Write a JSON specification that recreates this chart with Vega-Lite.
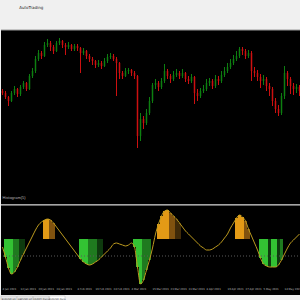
{
  "$schema": "https://vega.github.io/schema/vega-lite/v6.json",
  "background": "#f0f0f0",
  "padding": {"top": 5, "left": 0, "right": 0, "bottom": 0},
  "spacing": 0,
  "title": {"text": "AutoTrading", "anchor": "start", "fontSize": 4, "fontWeight": "normal", "color": "#222", "font": "DejaVu Sans", "dx": 19, "offset": 20},
  "config": {"view": {"stroke": null, "fill": "#000000"}, "concat": {"spacing": 0}},
  "datasets": {
    "bars": [
      {"d":"2021-01-04","o":110,"h":112,"l":106,"c":108,"v":9},
      {"d":"2021-01-05","o":108,"h":110,"l":102,"c":104,"v":-1,"hc":"G1"},
      {"d":"2021-01-06","o":104,"h":105,"l":95,"c":100,"v":-12,"hc":"G1"},
      {"d":"2021-01-07","o":100,"h":110,"l":99,"c":108,"v":-18,"hc":"G1"},
      {"d":"2021-01-08","o":108,"h":115,"l":106,"c":112,"v":-16,"hc":"G2"},
      {"d":"2021-01-11","o":112,"h":113,"l":104,"c":107,"v":-11,"hc":"G2"},
      {"d":"2021-01-12","o":107,"h":116,"l":105,"c":114,"v":-4,"hc":"G3"},
      {"d":"2021-01-13","o":114,"h":120,"l":112,"c":118,"v":2,"hc":"G3"},
      {"d":"2021-01-14","o":118,"h":119,"l":110,"c":112,"v":8},
      {"d":"2021-01-15","o":112,"h":127,"l":111,"c":125,"v":14},
      {"d":"2021-01-18","o":125,"h":133,"l":123,"c":130,"v":20},
      {"d":"2021-01-19","o":130,"h":145,"l":128,"c":142,"v":26},
      {"d":"2021-01-20","o":142,"h":151,"l":140,"c":148,"v":31},
      {"d":"2021-01-21","o":148,"h":150,"l":142,"c":145,"v":34},
      {"d":"2021-01-22","o":145,"h":159,"l":144,"c":156,"v":36,"hc":"O1"},
      {"d":"2021-01-25","o":156,"h":162,"l":154,"c":158,"v":37,"hc":"O1"},
      {"d":"2021-01-26","o":158,"h":160,"l":150,"c":154,"v":36,"hc":"O2"},
      {"d":"2021-01-27","o":154,"h":156,"l":147,"c":150,"v":33,"hc":"O2"},
      {"d":"2021-01-28","o":150,"h":160,"l":149,"c":158,"v":29},
      {"d":"2021-01-29","o":158,"h":163,"l":156,"c":160,"v":25},
      {"d":"2021-02-01","o":160,"h":161,"l":153,"c":156,"v":21},
      {"d":"2021-02-02","o":156,"h":158,"l":146,"c":154,"v":17},
      {"d":"2021-02-03","o":154,"h":159,"l":152,"c":156,"v":13},
      {"d":"2021-02-04","o":156,"h":157,"l":150,"c":152,"v":9},
      {"d":"2021-02-05","o":152,"h":157,"l":150,"c":155,"v":5},
      {"d":"2021-02-08","o":155,"h":157,"l":150,"c":153,"v":1},
      {"d":"2021-02-09","o":153,"h":154,"l":128,"c":148,"v":-3,"hc":"G1"},
      {"d":"2021-02-10","o":148,"h":153,"l":146,"c":150,"v":-6,"hc":"G1"},
      {"d":"2021-02-11","o":150,"h":151,"l":142,"c":145,"v":-8,"hc":"G1"},
      {"d":"2021-02-12","o":145,"h":147,"l":139,"c":142,"v":-9,"hc":"G2"},
      {"d":"2021-02-15","o":142,"h":144,"l":136,"c":140,"v":-8,"hc":"G2"},
      {"d":"2021-02-16","o":140,"h":141,"l":133,"c":136,"v":-6,"hc":"G2"},
      {"d":"2021-02-17","o":136,"h":141,"l":134,"c":138,"v":-4,"hc":"G3"},
      {"d":"2021-02-18","o":138,"h":140,"l":132,"c":135,"v":-1,"hc":"G3"},
      {"d":"2021-02-19","o":135,"h":143,"l":134,"c":140,"v":2},
      {"d":"2021-02-22","o":140,"h":147,"l":138,"c":144,"v":5},
      {"d":"2021-02-23","o":144,"h":148,"l":142,"c":145,"v":8},
      {"d":"2021-02-24","o":145,"h":147,"l":140,"c":142,"v":12},
      {"d":"2021-02-25","o":142,"h":144,"l":105,"c":138,"v":13},
      {"d":"2021-02-26","o":138,"h":139,"l":122,"c":128,"v":12},
      {"d":"2021-03-01","o":128,"h":130,"l":122,"c":125,"v":11},
      {"d":"2021-03-02","o":125,"h":133,"l":124,"c":130,"v":10},
      {"d":"2021-03-03","o":130,"h":133,"l":127,"c":131,"v":11},
      {"d":"2021-03-04","o":131,"h":132,"l":125,"c":128,"v":13},
      {"d":"2021-03-05","o":128,"h":130,"l":122,"c":125,"v":9,"hc":"G1"},
      {"d":"2021-03-08","o":125,"h":126,"l":53,"c":65,"v":-11,"hc":"G1"},
      {"d":"2021-03-09","o":65,"h":88,"l":60,"c":82,"v":-28,"hc":"G1"},
      {"d":"2021-03-10","o":82,"h":85,"l":72,"c":78,"v":-24,"hc":"G2"},
      {"d":"2021-03-11","o":78,"h":92,"l":76,"c":88,"v":-14,"hc":"G2"},
      {"d":"2021-03-12","o":88,"h":104,"l":86,"c":100,"v":-4,"hc":"G2"},
      {"d":"2021-03-15","o":100,"h":118,"l":98,"c":116,"v":8},
      {"d":"2021-03-16","o":116,"h":122,"l":112,"c":118,"v":22},
      {"d":"2021-03-17","o":118,"h":120,"l":110,"c":114,"v":32,"hc":"O1"},
      {"d":"2021-03-18","o":114,"h":123,"l":112,"c":120,"v":40,"hc":"O1"},
      {"d":"2021-03-19","o":120,"h":137,"l":118,"c":130,"v":45,"hc":"O1"},
      {"d":"2021-03-22","o":130,"h":132,"l":122,"c":125,"v":46,"hc":"O1"},
      {"d":"2021-03-23","o":125,"h":127,"l":118,"c":122,"v":43,"hc":"O2"},
      {"d":"2021-03-24","o":122,"h":130,"l":120,"c":126,"v":40,"hc":"O2"},
      {"d":"2021-03-25","o":126,"h":132,"l":124,"c":128,"v":37,"hc":"O3"},
      {"d":"2021-03-26","o":128,"h":130,"l":122,"c":125,"v":33,"hc":"O3"},
      {"d":"2021-03-29","o":125,"h":132,"l":123,"c":128,"v":29},
      {"d":"2021-03-30","o":128,"h":129,"l":119,"c":122,"v":25},
      {"d":"2021-03-31","o":122,"h":125,"l":117,"c":120,"v":22},
      {"d":"2021-04-01","o":120,"h":127,"l":118,"c":124,"v":19},
      {"d":"2021-04-02","o":124,"h":125,"l":97,"c":108,"v":16},
      {"d":"2021-04-05","o":108,"h":112,"l":100,"c":105,"v":13},
      {"d":"2021-04-06","o":105,"h":113,"l":103,"c":110,"v":10},
      {"d":"2021-04-07","o":110,"h":116,"l":108,"c":112,"v":8},
      {"d":"2021-04-08","o":112,"h":122,"l":110,"c":118,"v":6},
      {"d":"2021-04-09","o":118,"h":123,"l":115,"c":120,"v":6},
      {"d":"2021-04-12","o":120,"h":122,"l":112,"c":115,"v":7},
      {"d":"2021-04-13","o":115,"h":126,"l":113,"c":122,"v":9},
      {"d":"2021-04-14","o":122,"h":125,"l":116,"c":120,"v":11},
      {"d":"2021-04-15","o":120,"h":130,"l":118,"c":126,"v":14},
      {"d":"2021-04-16","o":126,"h":134,"l":124,"c":130,"v":18},
      {"d":"2021-04-19","o":130,"h":138,"l":128,"c":134,"v":22},
      {"d":"2021-04-20","o":134,"h":142,"l":132,"c":138,"v":28},
      {"d":"2021-04-21","o":138,"h":146,"l":136,"c":142,"v":33},
      {"d":"2021-04-22","o":142,"h":150,"l":140,"c":145,"v":38,"hc":"O1"},
      {"d":"2021-04-23","o":145,"h":154,"l":143,"c":152,"v":41,"hc":"O1"},
      {"d":"2021-04-26","o":152,"h":154,"l":146,"c":150,"v":39,"hc":"O1"},
      {"d":"2021-04-27","o":150,"h":152,"l":142,"c":145,"v":35,"hc":"O2"},
      {"d":"2021-04-28","o":145,"h":151,"l":143,"c":148,"v":27,"hc":"O2"},
      {"d":"2021-04-29","o":148,"h":150,"l":120,"c":130,"v":20},
      {"d":"2021-04-30","o":130,"h":134,"l":124,"c":128,"v":13},
      {"d":"2021-05-03","o":128,"h":131,"l":120,"c":124,"v":6},
      {"d":"2021-05-04","o":124,"h":127,"l":113,"c":120,"v":-2,"hc":"G1"},
      {"d":"2021-05-05","o":120,"h":126,"l":116,"c":122,"v":-8,"hc":"G1"},
      {"d":"2021-05-06","o":122,"h":124,"l":110,"c":115,"v":-10,"hc":"G1"},
      {"d":"2021-05-07","o":115,"h":118,"l":105,"c":112,"v":-11,"hc":"G3"},
      {"d":"2021-05-10","o":112,"h":114,"l":95,"c":100,"v":-11,"hc":"G1"},
      {"d":"2021-05-11","o":100,"h":103,"l":88,"c":92,"v":-11,"hc":"G1"},
      {"d":"2021-05-12","o":92,"h":96,"l":85,"c":88,"v":-9,"hc":"G3"},
      {"d":"2021-05-13","o":88,"h":108,"l":86,"c":105,"v":-4,"hc":"G2"},
      {"d":"2021-05-14","o":105,"h":135,"l":102,"c":128,"v":2},
      {"d":"2021-05-17","o":128,"h":130,"l":115,"c":122,"v":8},
      {"d":"2021-05-18","o":122,"h":124,"l":107,"c":115,"v":13},
      {"d":"2021-05-19","o":115,"h":118,"l":106,"c":112,"v":16},
      {"d":"2021-05-20","o":112,"h":117,"l":108,"c":114,"v":19},
      {"d":"2021-05-21","o":114,"h":116,"l":105,"c":110,"v":22}
    ],
    "tabs": [
      {"tab":"EURUSD,H1","active":false},
      {"tab":"GBPUSD,H4","active":false},
      {"tab":"USDJPY,Daily","active":false},
      {"tab":"EURUSD,Daily","active":true}
    ]
  },
  "vconcat": [
    {
      "width": 300,
      "height": 174,
      "data": {"name": "bars"},
      "layer": [
        {
          "mark": {"type": "rule", "strokeWidth": 1},
          "encoding": {
            "x": {"field": "d", "type": "ordinal", "scale": {"paddingInner": 0.5, "paddingOuter": 0.25}, "axis": null},
            "y": {"field": "l", "type": "quantitative", "scale": {"domain": [-3, 171], "nice": false, "zero": false}, "axis": null},
            "y2": {"field": "h"},
            "color": {"condition": {"test": "datum.c >= datum.o", "value": "#0d7f10"}, "value": "#cc1010"}
          }
        },
        {
          "mark": {"type": "bar"},
          "encoding": {
            "x": {"field": "d", "type": "ordinal", "axis": null},
            "y": {"field": "o", "type": "quantitative"},
            "y2": {"field": "c"},
            "color": {"condition": {"test": "datum.c >= datum.o", "value": "#0d7f10"}, "value": "#cc1010"}
          }
        },
        {
          "data": {"values": [{"t": "Histogram(5)"}]},
          "mark": {"type": "text", "align": "left", "baseline": "middle", "fontSize": 4, "color": "#b0b0b0", "dx": 0},
          "encoding": {
            "x": {"datum": "2021-01-04", "type": "ordinal"},
            "y": {"datum": 3},
            "text": {"field": "t"}
          }
        },
        {
          "data": {"values": [{}]},
          "mark": {"type": "rule", "color": "#9a9a9a", "strokeWidth": 1},
          "encoding": {"y": {"datum": 171}}
        }
      ]
    },
    {
      "width": 300,
      "height": 90,
      "data": {"name": "bars"},
      "layer": [
        {
          "transform": [{"filter": "isValid(datum.hc)"}],
          "mark": {"type": "bar"},
          "encoding": {
            "x": {"field": "d", "type": "ordinal", "scale": {"paddingInner": 0, "paddingOuter": 0},
                  "axis": {"orient": "bottom", "offset": -7, "ticks": false, "domain": false, "grid": false, "labelPadding": 0, "labelBaseline": "top", "labelAlign": "left", "labelAngle": 0, "labelFontSize": 2.6, "labelColor": "#bdbdbd", "labelFont": "DejaVu Sans", "labelOverlap": false, "title": null,
                           "values": ["2021-01-04","2021-01-12","2021-01-20","2021-01-28","2021-02-08","2021-02-16","2021-02-24","2021-03-04","2021-03-15","2021-03-23","2021-03-31","2021-04-08","2021-04-19","2021-04-27","2021-05-05","2021-05-14"],
                           "labelExpr": "timeFormat(toDate(datum.value + 'T00:00'), '%-d %b %Y')"}},
            "y": {"field": "v", "type": "quantitative", "scale": {"domain": [-39, 51], "nice": false, "zero": false}, "axis": null},
            "y2": {"datum": 17},
            "color": {"field": "hc", "type": "nominal", "scale": {"domain": ["G1","G2","G3","O1","O2","O3"], "range": ["#33c233","#1f7a1f","#0e3a0e","#e39a16","#80520f","#3f2a08"]}, "legend": null}
          }
        },
        {
          "data": {"values": [{}]},
          "mark": {"type": "rule", "color": "#5a5a5a", "strokeDash": [1, 2], "strokeWidth": 1},
          "encoding": {"y": {"datum": 0}}
        },
        {
          "mark": {"type": "line", "color": "#bc9a1e", "strokeWidth": 1, "interpolate": "monotone"},
          "encoding": {
            "x": {"field": "d", "type": "ordinal",
                  "axis": {"orient": "bottom", "offset": -7, "ticks": false, "domain": false, "grid": false, "labelPadding": 0, "labelBaseline": "top", "labelAlign": "left", "labelAngle": 0, "labelFontSize": 2.6, "labelColor": "#bdbdbd", "labelFont": "DejaVu Sans", "labelOverlap": false, "title": null,
                           "values": ["2021-01-04","2021-01-12","2021-01-20","2021-01-28","2021-02-08","2021-02-16","2021-02-24","2021-03-04","2021-03-15","2021-03-23","2021-03-31","2021-04-08","2021-04-19","2021-04-27","2021-05-05","2021-05-14"],
                           "labelExpr": "timeFormat(toDate(datum.value + 'T00:00'), '%-d %b %Y')"}},
            "y": {"field": "v", "type": "quantitative"}
          }
        },
        {
          "data": {"values": [{}]},
          "mark": {"type": "rule", "color": "#8c8c8c", "strokeWidth": 1.5},
          "encoding": {"y": {"datum": 51}}
        }
      ]
    },
    {
      "width": 64,
      "height": 7,
      "view": {"fill": "#f0f0f0"},
      "data": {"name": "tabs"},
      "layer": [
        {
          "mark": {"type": "bar", "stroke": "#b8b8b8", "strokeWidth": 0.5},
          "encoding": {
            "x": {"field": "tab", "type": "nominal", "sort": null, "scale": {"paddingInner": 0.05, "paddingOuter": 0}, "axis": null},
            "color": {"condition": {"test": "datum.active", "value": "#ffffff"}, "value": "#e6e6e6"}
          }
        },
        {
          "mark": {"type": "text", "fontSize": 2.4, "color": "#333", "font": "DejaVu Sans"},
          "encoding": {
            "x": {"field": "tab", "type": "nominal", "sort": null},
            "text": {"field": "tab"}
          }
        }
      ]
    }
  ]
}
